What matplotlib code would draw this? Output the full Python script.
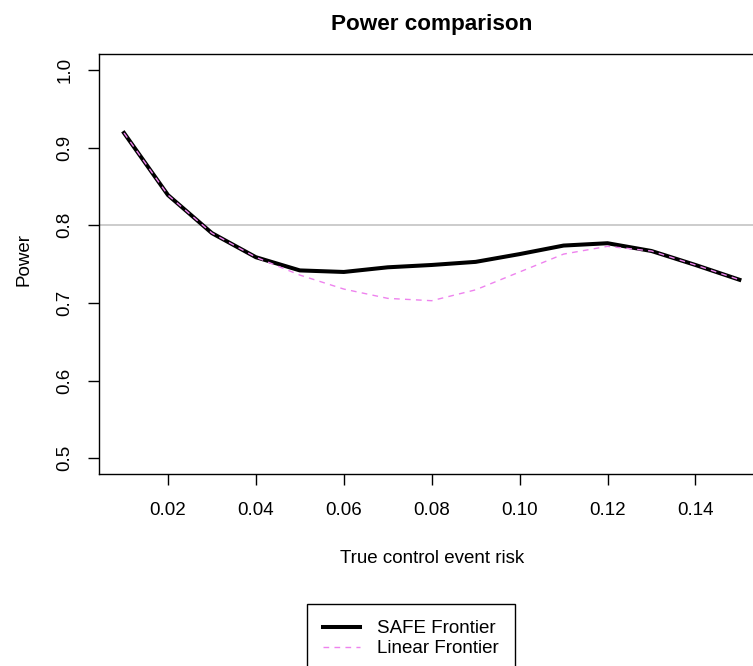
import numpy as np
import matplotlib.pyplot as plt

plt.rcParams['font.family'] = ['Liberation Sans', 'DejaVu Sans']

# true control event risk
risk = [0.01, 0.02, 0.03, 0.04, 0.05, 0.06, 0.07, 0.08,
        0.09, 0.10, 0.11, 0.12, 0.13, 0.14, 0.15]
# power of the two frontiers
safe_power = [0.919, 0.839, 0.790, 0.759, 0.742, 0.740, 0.746, 0.749,
              0.753, 0.763, 0.774, 0.777, 0.767, 0.749, 0.730]
linear_power = [0.919, 0.839, 0.790, 0.759, 0.736, 0.718, 0.706, 0.703,
                0.717, 0.740, 0.763, 0.773, 0.767, 0.749, 0.730]
target_power = 0.8

xticks = [0.02, 0.04, 0.06, 0.08, 0.10, 0.12, 0.14]
yticks = [0.5, 0.6, 0.7, 0.8, 0.9, 1.0]

W, H = 753, 666
fig = plt.figure(figsize=(W/100, H/100), dpi=100)
fs = 13.5

# plot region in pixels (right side runs past the image edge)
left, right, top, bottom = 99.4, 764.0, 54.5, 473.9
ax = fig.add_axes([left/W, 1-bottom/H, (right-left)/W, (bottom-top)/H])

ax.axhline(target_power, color='#BEBEBE', lw=1.1, zorder=1)
ax.plot(risk, safe_power, color='black', lw=2.9, solid_joinstyle='round',
        label='SAFE Frontier', zorder=2)
ax.plot(risk, linear_power, color='violet', lw=1.0, dashes=(4.1, 3.8),
        label='Linear Frontier', zorder=3)

ax.set_xlim(0.0044, 0.1556)
ax.set_ylim(0.48, 1.02)
ax.set_xticks(xticks)
ax.set_xticklabels(['%.2f' % v for v in xticks])
ax.set_yticks(yticks)
ax.set_yticklabels(['%.1f' % v for v in yticks], rotation=90, va='center')
ax.tick_params(direction='out', length=7.9, width=1.0, labelsize=fs)
ax.tick_params(axis='x', pad=12)
ax.tick_params(axis='y', pad=11)
for s in ax.spines.values():
    s.set_linewidth(1.0)

fig.text((left+right)/2/W, 1-30/H, 'Power comparison', ha='center',
         va='baseline', fontsize=16.2, fontweight='bold')
fig.text((left+right)/2/W, 1-563/H, 'True control event risk', ha='center',
         va='baseline', fontsize=fs)
fig.text(33/W, 1-260/H, 'Power', rotation=90, ha='right', va='center',
         fontsize=fs)

leg = fig.legend(loc='upper left', bbox_to_anchor=(307/W, 1-604/H),
                 borderaxespad=0, fontsize=fs, handlelength=2.0,
                 handletextpad=0.9, borderpad=0.85, labelspacing=0.16,
                 fancybox=False, framealpha=1)
leg.get_frame().set_edgecolor('black')
leg.get_frame().set_linewidth(1.0)

fig.savefig('out.png', dpi=100)
